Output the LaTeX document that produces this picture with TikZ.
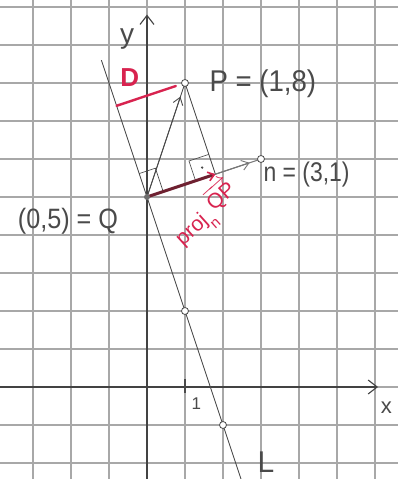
\documentclass[tikz,border=0pt]{standalone}
\usepackage{fontspec}
\setmainfont{Liberation Sans}
\usetikzlibrary{arrows.meta,calc}
\definecolor{pencil}{HTML}{4A4A4A}
\definecolor{gridc}{HTML}{A8A8A8}
\definecolor{redpen}{HTML}{D8234F}
\definecolor{darkred}{HTML}{6E2030}
\begin{document}
\begin{tikzpicture}[x=38pt,y=38pt,
  gridline/.style={gridc,line width=1.1pt},
  axis/.style={pencil!90!black,line width=1.1pt,-{Straight Barb[length=9pt,width=14pt,line width=1.1pt]}},
  pline/.style={pencil,line width=0.9pt},
  vtip/.style={-{Straight Barb[length=7pt,width=10pt,line width=0.9pt]}},
  dotc/.style={circle,draw=pencil,line width=0.8pt,fill=white,inner sep=0pt,minimum size=7pt},
  lab/.style={text=pencil,inner sep=0pt},
  redlab/.style={text=redpen,inner sep=0pt}]
\useasboundingbox (-3.868,-2.421) rectangle (6.605,10.184);
\fill[white] (-3.868,-2.421) rectangle (6.605,10.184);
% grid
\foreach \i in {-3,...,6} \draw[gridline] (\i,-2.421) -- (\i,10.184);
\foreach \j in {-2,...,10} \draw[gridline] (-3.868,\j) -- (6.605,\j);
% axes
\coordinate (xs) at (-3.868,0);
\coordinate (xe) at (6.08,0);
\coordinate (ys) at (0,-2.421);
\coordinate (ye) at (0,9.8);
\draw[axis] (xs) -- (xe);
\draw[axis] (ys) -- (ye);
\coordinate (t1a) at (1,-0.15);
\coordinate (t1b) at (1,0.22);
\draw[pencil,line width=1.4pt] (t1a) -- (t1b);
% points
\coordinate (Q) at (0,5);
\coordinate (P) at (1,8);
\coordinate (N) at (3,6);
\coordinate (F) at (1.8,5.6);
\coordinate (H) at (-0.8,7.4);
\coordinate (L1) at (-1.2,8.6);
\coordinate (L2) at (2.474,-2.421);
\coordinate (A1) at (1,2);
\coordinate (A2) at (2,-1);
% line L
\draw[pline] (L1) -- (L2);
% perpendicular from P to n-line
\draw[pline] (P) -- (F);
% QP vector
\draw[pline] (Q) -- (P);
\draw[pline,vtip] (Q) -- ($(Q)!0.88!(P)$);
% n vector
\draw[pencil!75,line width=1pt] (Q) -- (N);
\draw[pencil!75,line width=1pt,vtip] (Q) -- ($(Q)!0.9!(N)$);
% right angle at Q
\coordinate (ra1) at (-0.2055,5.6166);
\coordinate (ra2) at (0.2214,5.7589);
\coordinate (ra3) at (0.4269,5.1423);
\draw[pencil,line width=0.7pt] (ra1) -- (ra2) -- (ra3);
% right angle at F
\coordinate (rb1) at (1.2782,5.4261);
\coordinate (rb2) at (1.1043,5.9479);
\coordinate (rb3) at (1.6261,6.1218);
\draw[pencil,line width=0.7pt] (rb1) -- (rb2) -- (rb3);
\fill[pencil] (1.4522,5.7739) circle (1.3pt);
% projection vector
\draw[darkred,line width=3pt,line cap=round,-{Straight Barb[length=6pt,width=9pt,line width=1.6pt,color=redpen]}] (Q) -- (F);
% D segment
\coordinate (Dend) at (0.76,7.92);
\draw[redpen,line width=2.4pt,line cap=round] (H) -- (Dend);
% small circles
\node[dotc] (Pc) at (P) {};
\node[dotc] (Nc) at (N) {};
\node[dotc] (A1c) at (A1) {};
\node[dotc] (A2c) at (A2) {};
\node[circle,fill=pencil!80,inner sep=0pt,minimum size=6pt] (Qc) at (Q) {};
% labels
\node[lab,font=\fontsize{28}{28}\selectfont] (ylab) at (-0.52,9.15) {y};
\node[lab,font=\fontsize{22}{22}\selectfont] (xlab) at (6.3,-0.55) {x};
\node[lab,font=\fontsize{17}{17}\selectfont] (one) at (1.3,-0.45) {1};
\node[lab,font=\fontsize{30}{30}\selectfont,xscale=0.92] (Plab) at (3.05,7.98) {P = (1,8)};
\node[lab,font=\fontsize{27}{27}\selectfont,xscale=0.85] (nlab) at (4.2,5.58) {n = (3,1)};
\node[lab,font=\fontsize{28}{28}\selectfont,xscale=0.9] (Qlab) at (-2.08,4.35) {(0,5) = Q};
\node[lab,font=\fontsize{30}{30}\selectfont] (Llab) at (3.13,-1.97) {L};
\node[redlab,font=\fontsize{26}{26}\selectfont\bfseries] (Dlab) at (-0.45,8.15) {D};
\node[redlab,font=\fontsize{21}{21}\selectfont,rotate=42] (projlab) at (1.55,4.55) {proj\raisebox{-0.45em}{\fontsize{15}{15}\selectfont n}\,\raisebox{0.25em}{$\overrightarrow{\mbox{QP}}$}};
\end{tikzpicture}
\end{document}
